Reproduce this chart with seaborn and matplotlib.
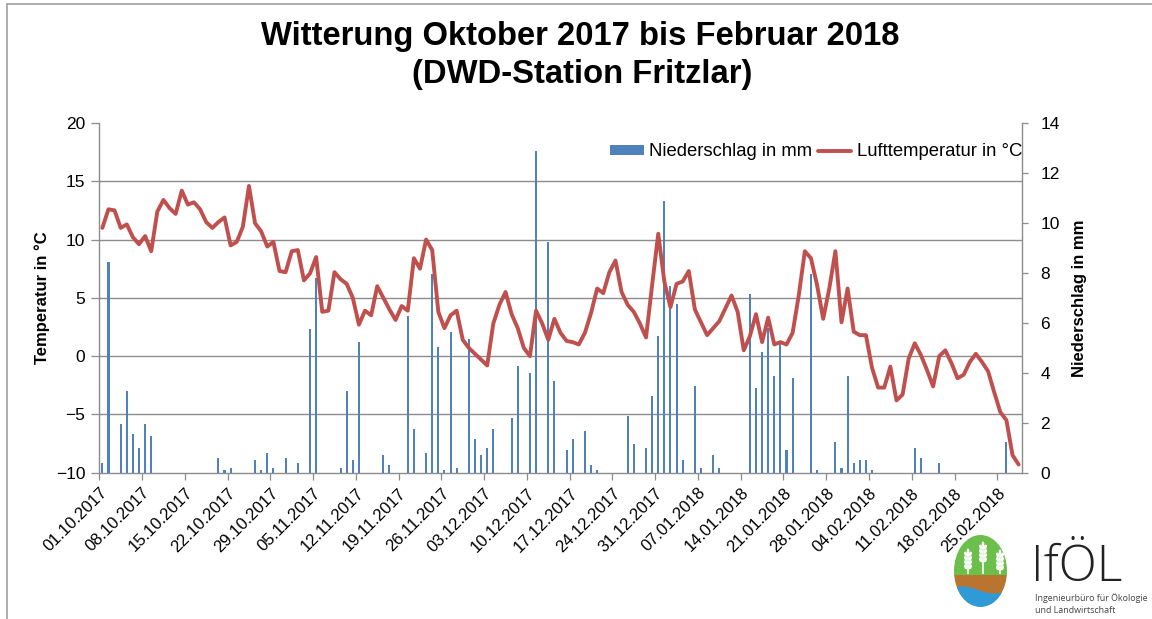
import numpy as np
import pandas as pd
import matplotlib
matplotlib.use("Agg")
import matplotlib.pyplot as plt
from matplotlib.patches import Patch, Ellipse, Rectangle, Polygon
from matplotlib.lines import Line2D
import seaborn as sns

# ---------------- data ----------------
dates = pd.date_range("2017-10-01", "2018-02-28", freq="D")

precip_mm = [
    0.4, 8.45, 0, 1.96, 3.27, 1.55, 1.0, 1.96, 1.46, 0,          # 0-9
    0, 0, 0, 0, 0, 0, 0, 0, 0, 0.6,                              # 10-19
    0.1, 0.2, 0, 0, 0, 0.5, 0.1, 0.8, 0.2, 0,                    # 20-29
    0.6, 0, 0.4, 0, 5.75, 7.78, 0, 0, 0, 0.2,                    # 30-39
    3.27, 0.5, 5.24, 0, 0, 0, 0.7, 0.3, 0, 0,                    # 40-49
    6.26, 1.76, 0, 0.8, 7.97, 5.04, 0.1, 5.64, 0.2, 0,           # 50-59
    5.35, 1.35, 0.7, 1.0, 1.76, 0, 0, 2.18, 4.28, 0,             # 60-69
    3.99, 12.88, 0, 9.25, 3.67, 0, 0.91, 1.35, 0, 1.66,          # 70-79
    0.3, 0.1, 0, 0, 0, 0, 2.28, 1.16, 0, 1.0,                    # 80-89
    3.07, 5.46, 10.89, 7.46, 6.77, 0.5, 0, 3.46, 0.2, 0,         # 90-99
    0.7, 0.2, 0, 0, 0, 0, 7.17, 3.38, 4.84, 5.78,                # 100-109
    3.88, 5.16, 0.91, 3.78, 0, 0, 7.97, 0.1, 0, 0,               # 110-119
    1.24, 0.2, 3.88, 0.4, 0.5, 0.5, 0.1, 0, 0, 0,                # 120-129
    0, 0, 0, 1.0, 0.6, 0, 0, 0.4, 0, 0,                          # 130-139
    0, 0, 0, 0, 0, 0, 0, 0, 1.24, 0,                             # 140-149
    0,                                                           # 150
]

temp_c = [
    11.0, 12.6, 12.5, 11.0, 11.3, 10.2, 9.6, 10.3, 9.0, 12.4,    # 0-9
    13.4, 12.7, 12.2, 14.2, 13.0, 13.2, 12.6, 11.5, 11.0, 11.5,  # 10-19
    11.9, 9.5, 9.8, 11.1, 14.6, 11.4, 10.7, 9.4, 9.8, 7.3,       # 20-29
    7.2, 9.0, 9.1, 6.5, 7.1, 8.5, 3.8, 3.9, 7.2, 6.6,            # 30-39
    6.2, 5.0, 2.7, 3.9, 3.5, 6.0, 5.0, 4.0, 3.1, 4.3,            # 40-49
    3.9, 8.4, 7.5, 10.0, 9.1, 3.8, 2.4, 3.5, 3.9, 1.4,           # 50-59
    0.7, 0.2, -0.3, -0.8, 2.8, 4.4, 5.5, 3.6, 2.4, 0.7,          # 60-69
    0.0, 3.9, 2.8, 1.4, 3.2, 2.0, 1.3, 1.2, 1.0, 2.0,            # 70-79
    3.7, 5.8, 5.4, 7.2, 8.2, 5.5, 4.4, 3.8, 2.8, 1.6,            # 80-89
    6.1, 10.5, 6.4, 4.2, 6.2, 6.4, 7.3, 4.0, 2.9, 1.8,           # 90-99
    2.4, 3.0, 4.1, 5.2, 3.8, 0.5, 1.7, 3.6, 1.2, 3.3,            # 100-109
    1.0, 1.2, 1.0, 2.0, 5.2, 9.0, 8.4, 6.1, 3.2, 5.8,            # 110-119
    9.0, 2.9, 5.8, 2.1, 1.8, 1.8, -1.0, -2.7, -2.7, -0.9,        # 120-129
    -3.8, -3.3, -0.2, 1.1, 0.1, -1.2, -2.6, 0.0, 0.5, -0.6,      # 130-139
    -1.9, -1.6, -0.5, 0.2, -0.5, -1.3, -3.1, -4.8, -5.5, -8.5,   # 140-149
    -9.3,                                                        # 150
]

tick_labels = [
    "01.10.2017", "08.10.2017", "15.10.2017", "22.10.2017", "29.10.2017",
    "05.11.2017", "12.11.2017", "19.11.2017", "26.11.2017", "03.12.2017",
    "10.12.2017", "17.12.2017", "24.12.2017", "31.12.2017", "07.01.2018",
    "14.01.2018", "21.01.2018", "28.01.2018", "04.02.2018", "11.02.2018",
    "18.02.2018", "25.02.2018",
]

temp_ticks = [-10, -5, 0, 5, 10, 15, 20]
precip_ticks = [0, 2, 4, 6, 8, 10, 12, 14]

df = pd.DataFrame({"Tag": np.arange(len(dates)), "Niederschlag": precip_mm,
                   "Temperatur": temp_c})

# ---------------- style ----------------
BLUE = "#4F81BD"
RED = "#C0504D"
GRID = "#8C8C8C"

sns.set_theme(style="white")
plt.rcParams["font.family"] = ["Liberation Sans", "DejaVu Sans"]
plt.rcParams["text.color"] = "black"
plt.rcParams["axes.labelcolor"] = "black"
plt.rcParams["xtick.color"] = "black"
plt.rcParams["ytick.color"] = "black"

W, H = 1152, 619
fig = plt.figure(figsize=(W / 100, H / 100), dpi=100)

def fx(x):
    return x / W

def fy(y):
    return 1 - y / H

L, R, T, B = 99.3, 1021.7, 123.0, 472.7
ax = fig.add_axes([fx(L), fy(B), fx(R) - fx(L), fy(T) - fy(B)])

# bars (precipitation, right axis)
sns.barplot(data=df, x="Tag", y="Niederschlag", ax=ax, color=BLUE,
            saturation=1, width=0.34, native_scale=True, errorbar=None,
            linewidth=0, zorder=2)
ax.set_ylim(0, 14)
ax.set_xlim(-0.5, len(dates) - 0.5)

# line (temperature, left axis)
ax2 = ax.twinx()
sns.lineplot(data=df, x="Tag", y="Temperatur", ax=ax2, color=RED, lw=2.8,
             legend=False, zorder=3)
ax2.set_ylim(-10, 20)
ax2.set_xlim(-0.5, len(dates) - 0.5)

# precipitation axis on the right
ax.set_yticks(precip_ticks)
ax.set_yticks(np.linspace(0, 14, 7), minor=True)
ax.grid(False)
ax.grid(which="minor", axis="y", color=GRID, lw=1.0, zorder=0)
ax.set_axisbelow(True)
ax.yaxis.tick_right()
ax.yaxis.set_label_position("right")
ax.set_ylabel("Niederschlag in mm", fontsize=12, fontweight="bold", labelpad=9)
ax.set_xlabel("")
ax.tick_params(axis="y", which="major", right=True, left=False, labelright=True,
               labelleft=False, length=4.5, width=0.9, color=GRID,
               labelsize=12.5, pad=9, labelcolor="black")
ax.tick_params(axis="y", which="minor", length=0)

xt = [i - 0.5 for i in range(0, len(dates), 7)]
ax.set_xticks(xt)
ax.set_xticklabels(tick_labels, rotation=45, ha="right", va="top",
                   rotation_mode="anchor", fontsize=12)
ax.tick_params(axis="x", bottom=True, length=5, width=0.9, color=GRID, pad=4,
               labelcolor="black")

for s in ["left", "right", "bottom"]:
    ax.spines[s].set_visible(True)
    ax.spines[s].set_color(GRID)
    ax.spines[s].set_linewidth(1.0)
ax.spines["top"].set_visible(False)

# temperature axis on the left
ax2.set_yticks(temp_ticks)
ax2.yaxis.tick_left()
ax2.yaxis.set_label_position("left")
ax2.set_ylabel("Temperatur in °C", fontsize=12, fontweight="bold", labelpad=4)
ax2.tick_params(axis="y", left=True, right=False, labelleft=True,
                labelright=False, length=6, width=0.9, color=GRID,
                labelsize=12.5, pad=4, labelcolor="black")
ax2.set_xlabel("")
ax2.grid(False)
for s in ax2.spines.values():
    s.set_visible(False)

# legend
handles = [Patch(facecolor=BLUE, edgecolor="none"),
           Line2D([0], [0], color=RED, lw=2.8)]
fig.legend(handles, ["Niederschlag in mm", "Lufttemperatur in °C"],
           loc="center right", bbox_to_anchor=(fx(1022), fy(152)), ncol=2,
           frameon=False, fontsize=13.3, handlelength=1.8, handleheight=0.45,
           handletextpad=0.3, columnspacing=0.3, borderaxespad=0,
           borderpad=0)

# title
fig.text(fx(580), fy(45), "Witterung Oktober 2017 bis Februar 2018",
         ha="center", va="baseline", fontsize=23.6, fontweight="bold",
         color="black")
fig.text(fx(582), fy(83), "(DWD-Station Fritzlar)",
         ha="center", va="baseline", fontsize=23.6, fontweight="bold",
         color="black")

# outer frame lines
fig.add_artist(Line2D([fx(7), fx(7)], [fy(4), 0], color="#A0A0A0", lw=1.2))
fig.add_artist(Line2D([fx(7), 1], [fy(4), fy(4)], color="#A0A0A0", lw=1.2))

# logo
lx0, lx1, ly0, ly1 = 950, 1012, 532, 610
lax = fig.add_axes([fx(lx0), fy(ly1), fx(lx1) - fx(lx0), fy(ly0) - fy(ly1)])
lax.set_xlim(lx0, lx1)
lax.set_ylim(ly1, ly0)
lax.axis("off")
cx, cy, ew, eh = 980.5, 571.0, 53, 72
clip = Ellipse((cx, cy), ew, eh, facecolor="none", edgecolor="none")
lax.add_patch(clip)
g = Rectangle((lx0, ly0), lx1 - lx0, 575 - ly0, facecolor="#6CBF4B", edgecolor="none")
b = Rectangle((lx0, 575), lx1 - lx0, 30, facecolor="#B97430", edgecolor="none")
wx = np.linspace(lx0, lx1, 60)
wy = 590 - 3.5 * np.sin((wx - lx0) / (lx1 - lx0) * 2 * np.pi + 0.3)
poly = Polygon(np.vstack([np.column_stack([wx, wy]), [[lx1, ly1], [lx0, ly1]]]),
               facecolor="#2E9AD8", edgecolor="none")
for p in (g, b, poly):
    lax.add_patch(p)
    p.set_clip_path(clip)
for sx, top in [(968, 550), (983, 543), (1000, 551)]:
    lax.plot([sx, sx], [574, top + 3], color="white", lw=1.2, solid_capstyle="butt")
    for k in range(4):
        yy = top + 4 + k * 4.3
        lax.add_patch(Ellipse((sx - 2.2, yy), 3.2, 5.0, angle=-25, facecolor="white", edgecolor="none"))
        lax.add_patch(Ellipse((sx + 2.2, yy), 3.2, 5.0, angle=25, facecolor="white", edgecolor="none"))
    lax.add_patch(Ellipse((sx, top + 1), 2.6, 5.0, facecolor="white", edgecolor="none"))

fig.text(fx(1031), fy(581), "IfÖL", ha="left", va="baseline", fontsize=36,
         family=["Open Sans", "DejaVu Sans"], fontweight="light", color="#222222")
fig.text(fx(1035), fy(601), "Ingenieurbüro für Ökologie", ha="left", va="baseline",
         fontsize=6.4, family=["Open Sans", "DejaVu Sans"], color="#444444")
fig.text(fx(1035), fy(613), "und Landwirtschaft", ha="left", va="baseline",
         fontsize=6.4, family=["Open Sans", "DejaVu Sans"], color="#444444")

fig.savefig("out.png", dpi=100)
